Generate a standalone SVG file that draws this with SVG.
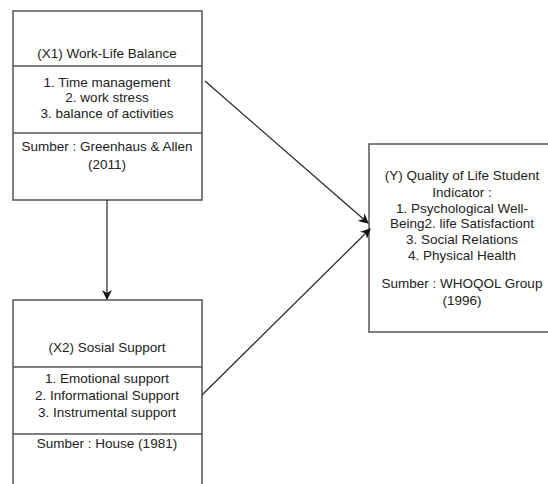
<svg xmlns="http://www.w3.org/2000/svg" width="548" height="484" viewBox="0 0 548 484">
<style>
.box{fill:#fff;stroke:#555;stroke-width:1.5}
.sep{stroke:#555;stroke-width:1.5}
.t{font-family:"Liberation Sans",Arial,sans-serif;font-size:13.5px;fill:#222;text-anchor:middle}
.c{stroke:#222;stroke-width:1.2;fill:none;marker-end:url(#ah)}
</style>
<defs>
<marker id="ah" viewBox="0 0 10 10" refX="9" refY="5" markerWidth="10" markerHeight="10" markerUnits="userSpaceOnUse" orient="auto">
<path d="M0,0 L10,5 L0,10 L3,5 Z" fill="#111"/>
</marker>
</defs>
<rect width="548" height="484" fill="#fff"/>
<g id="x1">
<rect class="box" x="13" y="11" width="189" height="189"/>
<line class="sep" x1="13" y1="66" x2="202" y2="66"/>
<line class="sep" x1="13" y1="133" x2="202" y2="133"/>
<text class="t" x="107" y="58">(X1) Work-Life Balance</text>
<text class="t" x="107" y="87">1. Time management</text>
<text class="t" x="107" y="102">2. work stress</text>
<text class="t" x="107" y="118">3. balance of activities</text>
<text class="t" x="107" y="151">Sumber : Greenhaus &amp; Allen</text>
<text class="t" x="107" y="169">(2011)</text>
</g>
<g id="x2">
<rect class="box" x="13" y="300" width="189" height="200"/>
<line class="sep" x1="13" y1="367" x2="202" y2="367"/>
<line class="sep" x1="13" y1="434" x2="202" y2="434"/>
<text class="t" x="107" y="352">(X2) Sosial Support</text>
<text class="t" x="107" y="383">1. Emotional support</text>
<text class="t" x="107" y="400">2. Informational Support</text>
<text class="t" x="107" y="417">3. Instrumental support</text>
<text class="t" x="107" y="448">Sumber : House (1981)</text>
</g>
<g id="y">
<rect class="box" x="369" y="144" width="190" height="188"/>
<text class="t" x="462" y="180">(Y) Quality of Life Student</text>
<text class="t" x="462" y="197">Indicator :</text>
<text class="t" x="462" y="213">1. Psychological Well-</text>
<text class="t" x="462" y="228">Being2. life Satisfactiont</text>
<text class="t" x="462" y="244">3. Social Relations</text>
<text class="t" x="462" y="260">4. Physical Health</text>
<text class="t" x="462" y="288">Sumber : WHOQOL Group</text>
<text class="t" x="462" y="305">(1996)</text>
</g>
<g id="connectors">
<line class="c" x1="107" y1="200" x2="107" y2="299"/>
<line class="c" x1="205" y1="81" x2="368" y2="223"/>
<line class="c" x1="202" y1="395" x2="370" y2="229"/>
</g>
</svg>
